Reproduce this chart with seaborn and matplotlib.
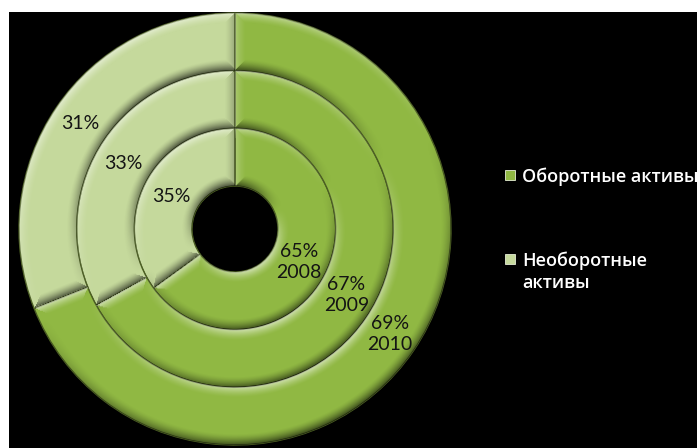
import numpy as np
import matplotlib
matplotlib.use("Agg")
import matplotlib.pyplot as plt
from matplotlib.patches import Rectangle
import seaborn as sns

# Структура активов по годам, %
years = ["2008", "2009", "2010"]
current_assets = [65, 67, 69]      # Оборотные активы
noncurrent_assets = [35, 33, 31]   # Необоротные активы
legend_labels = ["Оборотные активы", "Необоротные\nактивы"]

sns.set_theme(style="white")
plt.rcParams["font.family"] = ["Lato", "Open Sans", "DejaVu Sans"]

palette = ["#90B843", "#C5D99C"]
edge_color = "#4B5E22"

W, H = 697, 448
LEFT, TOP = 9, 12
fig = plt.figure(figsize=(W / 100, H / 100), dpi=100, facecolor="white")
ax = fig.add_axes([LEFT / W, 0, (W - LEFT) / W, (H - TOP) / H])
ax.set_facecolor("black")

cx, cy = 235, H - 229          # centre of the rings, px (y up)
hole = 43
r_outer = 216
ring_w = (r_outer - hole) / 3


def bevel(ax, wedge, light=(-0.42, 0.91), depth=11.0, strength=0.6):
    """Soft edge lighting clipped to one wedge."""
    x0, y0 = wedge.center
    r_out = wedge.r
    r_in = r_out - wedge.width
    t1, t2 = np.radians(wedge.theta1), np.radians(wedge.theta2)
    xs = np.arange(x0 - r_out - 2, x0 + r_out + 2, 1.0)
    ys = np.arange(y0 - r_out - 2, y0 + r_out + 2, 1.0)
    X, Y = np.meshgrid(xs, ys)
    dx, dy = X - x0, Y - y0
    r = np.hypot(dx, dy)
    rr = np.maximum(r, 1e-9)
    ux, uy = dx / rr, dy / rr
    phi = np.arctan2(dy, dx)
    a1 = np.mod(phi - t1, 2 * np.pi)
    a2 = np.mod(t2 - phi, 2 * np.pi)
    d1 = r * np.sin(np.minimum(a1, np.pi / 2))
    d2 = r * np.sin(np.minimum(a2, np.pi / 2))
    dists = np.stack([r_out - r, r - r_in, d1, d2])
    ones = np.ones_like(ux)
    nx = np.stack([ux, -ux, np.sin(t1) * ones, -np.sin(t2) * ones])
    ny = np.stack([uy, -uy, -np.cos(t1) * ones, np.cos(t2) * ones])
    k = np.argmin(dists, axis=0)[None]
    d = np.take_along_axis(dists, k, 0)[0]
    n_x = np.take_along_axis(nx, k, 0)[0]
    n_y = np.take_along_axis(ny, k, 0)[0]
    facing = n_x * light[0] + n_y * light[1]
    prof = np.clip(1 - d / depth, 0, 1) ** 1.5
    shade = facing * prof
    rgba = np.zeros(X.shape + (4,))
    rgba[..., :3] = np.where(shade[..., None] > 0, 1.0, 0.0)
    rgba[..., 3] = np.clip(np.abs(shade) * strength, 0, 1)
    im = ax.imshow(rgba, extent=(xs[0] - 0.5, xs[-1] + 0.5, ys[0] - 0.5, ys[-1] + 0.5),
                   origin="lower", interpolation="bilinear",
                   zorder=wedge.get_zorder() + 0.5)
    im.set_clip_path(wedge)


for i, year in enumerate(years):
    radius = hole + (i + 1) * ring_w
    values = [current_assets[i], noncurrent_assets[i]]
    wedges, _ = ax.pie(values, radius=radius, center=(cx, cy), startangle=90,
                       counterclock=False, colors=palette, frame=True,
                       wedgeprops=dict(width=ring_w, edgecolor=edge_color, linewidth=1.0))
    r_mid = radius - ring_w / 2
    for j, (w, v) in enumerate(zip(wedges, values)):
        bevel(ax, w)
        ang = np.radians((w.theta1 + w.theta2) / 2)
        label = f"{v}%\n{year}" if j == 0 else f"{v}%"
        ax.text(cx + r_mid * np.cos(ang), cy + r_mid * np.sin(ang), label,
                ha="center", va="center", fontsize=14, color="#141414",
                linespacing=1.3, zorder=10)

# Легенда
legend_y = [H - 175, H - 259]
for y, lab, col in zip(legend_y, legend_labels, palette):
    ax.add_patch(Rectangle((505, y - 5), 10, 10, facecolor=col,
                           edgecolor="#E6EED6", linewidth=0.6, zorder=10))
    ax.text(522, y + 8, lab, ha="left", va="top", fontsize=13, color="white",
            family=["Open Sans", "DejaVu Sans"], fontweight="semibold",
            linespacing=1.3, zorder=10)

ax.set_aspect("auto")
ax.set_xlim(LEFT, W)
ax.set_ylim(0, H - TOP)
ax.set_xticks([])
ax.set_yticks([])
for s in ax.spines.values():
    s.set_visible(False)

fig.savefig("out.png", dpi=100, facecolor="white")
